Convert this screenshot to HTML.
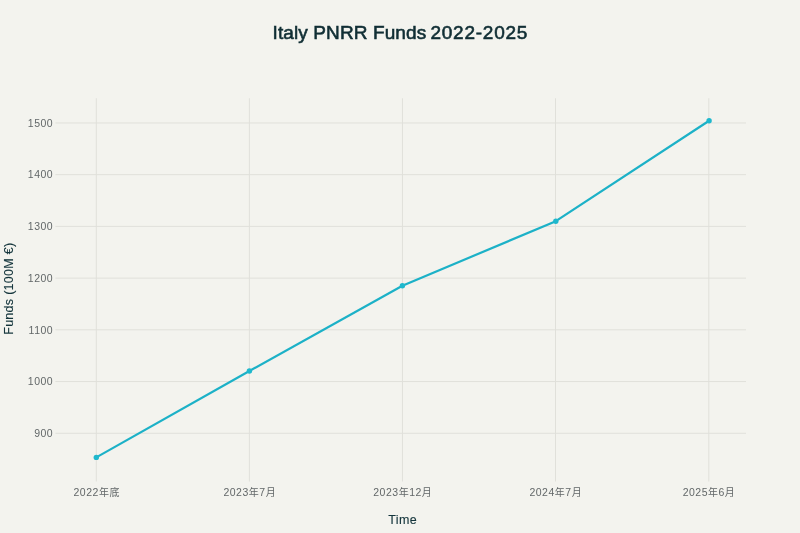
<!DOCTYPE html>
<html>
<head>
<meta charset="utf-8">
<style>
html, body { margin: 0; padding: 0; background: #F3F3EE; }
body { width: 800px; height: 533px; overflow: hidden; }
svg { display: block; will-change: transform; }
text { font-family: "Liberation Sans", "Noto Sans CJK SC", sans-serif; }
</style>
</head>
<body>
<svg width="800" height="533" viewBox="0 0 800 533">
  <rect x="0" y="0" width="800" height="533" fill="#F3F3EE"/>
  <!-- gridlines -->
  <g stroke="#E0E0DA" stroke-width="1">
    <line x1="55.4" x2="746" y1="122.96" y2="122.96"/>
    <line x1="55.4" x2="746" y1="174.68" y2="174.68"/>
    <line x1="55.4" x2="746" y1="226.4" y2="226.4"/>
    <line x1="55.4" x2="746" y1="278.1" y2="278.1"/>
    <line x1="55.4" x2="746" y1="329.8" y2="329.8"/>
    <line x1="55.4" x2="746" y1="381.55" y2="381.55"/>
    <line x1="55.4" x2="746" y1="433.25" y2="433.25"/>
    <line x1="96.3" x2="96.3" y1="98.25" y2="481.5"/>
    <line x1="249.4" x2="249.4" y1="98.25" y2="481.5"/>
    <line x1="402.45" x2="402.45" y1="98.25" y2="481.5"/>
    <line x1="555.5" x2="555.5" y1="98.25" y2="481.5"/>
    <line x1="708.8" x2="708.8" y1="98.25" y2="481.5"/>
  </g>
  <!-- data line -->
  <polyline fill="none" stroke="#1CB1C7" stroke-width="2.2" stroke-linejoin="round"
    points="96.3,457.4 249.4,371.0 402.4,285.75 555.8,221.2 709.1,120.75"/>
  <g fill="#1FB8CD">
    <circle cx="96.3" cy="457.4" r="2.7"/>
    <circle cx="249.4" cy="371.0" r="2.7"/>
    <circle cx="402.4" cy="285.75" r="2.7"/>
    <circle cx="555.8" cy="221.2" r="2.7"/>
    <circle cx="709.1" cy="120.75" r="2.7"/>
  </g>
  <!-- title -->
  <g font-size="19" fill="#102E34" stroke="#102E34" stroke-width="0.6">
    <text x="272.6" y="38.7" textLength="153.6" lengthAdjust="spacing">Italy PNRR Funds</text>
    <text x="430.4" y="38.7" textLength="97" lengthAdjust="spacing">2022-2025</text>
  </g>
  <!-- y tick labels -->
  <g font-size="10.5" fill="#626768" text-anchor="end" letter-spacing="0.5">
    <text x="53.2" y="126.71">1500</text>
    <text x="53.2" y="178.43">1400</text>
    <text x="53.2" y="230.15">1300</text>
    <text x="53.2" y="281.85">1200</text>
    <text x="53.2" y="333.55">1100</text>
    <text x="53.2" y="385.30">1000</text>
    <text x="53.2" y="437.00">900</text>
  </g>
  <!-- x tick labels -->
  <g font-size="10.5" fill="#626768" text-anchor="middle" letter-spacing="0.5">
    <text x="96.7" y="495.5">2022<tspan font-size="10">年</tspan><tspan font-size="10">底</tspan></text>
    <text x="249.8" y="495.5">2023<tspan font-size="10">年</tspan>7<tspan font-size="10">月</tspan></text>
    <text x="402.8" y="495.5">2023<tspan font-size="10">年</tspan>12<tspan font-size="10">月</tspan></text>
    <text x="555.8" y="495.5">2024<tspan font-size="10">年</tspan>7<tspan font-size="10">月</tspan></text>
    <text x="709.0" y="495.5">2025<tspan font-size="10">年</tspan>6<tspan font-size="10">月</tspan></text>
  </g>
  <!-- axis titles -->
  <text x="402.5" y="523.8" text-anchor="middle" font-size="12.5" fill="#13343B" stroke="#13343B" stroke-width="0.12" textLength="28.6" lengthAdjust="spacing">Time</text>
  <text transform="translate(12.5,288.8) rotate(-90)" text-anchor="middle" font-size="12.5" fill="#13343B" stroke="#13343B" stroke-width="0.12" textLength="92" lengthAdjust="spacing">Funds (100M €)</text>
</svg>
</body>
</html>
